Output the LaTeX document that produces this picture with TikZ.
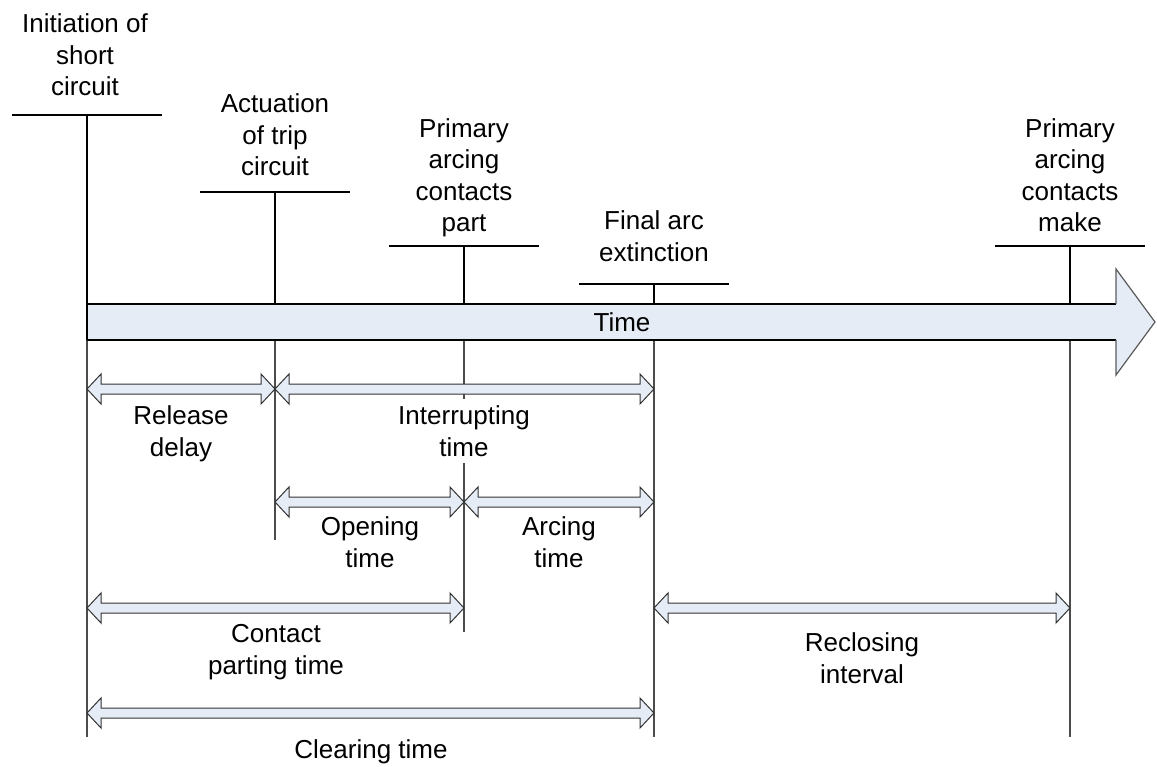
\documentclass[tikz,border=0pt]{standalone}
\usepackage{fontspec}
\setmainfont{Liberation Sans}
\usetikzlibrary{calc}
\definecolor{fg}{RGB}{0,0,0}
\definecolor{mu}{RGB}{90,90,90}
\definecolor{band}{RGB}{229,236,246}
\newcommand{\lblfont}{\fontsize{26}{31.5}\selectfont}
% hohler Doppelpfeil zwischen zwei Koordinaten
\newcommand{\spanarr}[2]{%
  \draw[span] (#1) -- ++(14,-15) -- ++(0,10) -- ($(#2)+(-14,-5)$) -- ++(0,-10)
    -- (#2) -- ++(-14,15) -- ++(0,-10) -- ($(#1)+(14,5)$) -- ++(0,10) -- cycle;}
\tikzset{
  every picture/.style={fg, line width=1pt, line join=miter},
  every node/.style={font=\lblfont},
  % Linientypen
  bar/.style={line width=1.6pt},
  tick/.style={line width=1.6pt},
  guide/.style={black!70, line width=1.2pt},
  span/.style={draw=black!80, fill=band, line width=1pt},
  % Beschriftung, ggf. mit Aussparung
  lbl/.style={align=center, inner sep=0pt},
  lblbg/.style={lbl, fill=white, inner xsep=2pt, inner ysep=7pt},
}
\begin{document}
\begin{tikzpicture}[x=1pt, y=-1pt]
  \useasboundingbox (0,0) rectangle (1157,767);
  % Zeitpunkte: Querbalken, Marke oben, Hilfslinie unten
  \foreach \n/\x/\top/\bot in {A/87/115/737, B/275/192/540, C/464/246/632,
      D/654/284/737, E/1070/246/737} {
    \coordinate (\n-top) at (\x,\top);
    \coordinate (\n-axu) at (\x,304);
    \coordinate (\n-axd) at (\x,340);
    \coordinate (\n-bot) at (\x,\bot);
    \coordinate (\n-r1) at (\x,389);
    \coordinate (\n-r2) at (\x,502);
    \coordinate (\n-r3) at (\x,608);
    \coordinate (\n-r4) at (\x,713);
    \draw[bar] ($(\n-top)+(-75,0)$) -- ($(\n-top)+(75,0)$);
    \draw[tick] (\n-top) -- (\n-axu);
    \draw[guide] (\n-axd) -- (\n-bot);
  }
  % Zeitachse als breiter Pfeil
  \coordinate (hu) at (1116,304);
  \coordinate (hd) at (1116,340);
  \coordinate (tip) at (1155,322);
  \fill[band] (A-axu) -- (hu) -- (1116,269) -- (tip) -- (1116,375) -- (hd) -- (A-axd) -- cycle;
  \draw[tick] (A-axu) -- (hu);
  \draw[tick] (A-axd) -- (hd);
  \draw[tick] (A-axu) -- (A-axd);
  \draw[mu, line width=1.2pt] (hu) -- (1116,269) -- (tip) -- (1116,375) -- (hd);
  \node[lbl] (time) at (622,322) {Time};
  % Ereignisse
  \node[lbl] (init) at (85,55) {Initiation of\\short\\circuit};
  \node[lbl] (trip) at (275,135) {Actuation\\of trip\\circuit};
  \node[lbl] (part) at (464,178) {Primary\\arcing\\contacts\\part};
  \node[lbl] (ext) at (654,236) {Final arc\\extinction};
  \node[lbl] (make) at (1070,175) {Primary\\arcing\\contacts\\make};
  % Intervalle
  \spanarr{A-r1}{B-r1}
  \spanarr{B-r1}{D-r1}
  \spanarr{B-r2}{C-r2}
  \spanarr{C-r2}{D-r2}
  \spanarr{A-r3}{C-r3}
  \spanarr{D-r3}{E-r3}
  \spanarr{A-r4}{D-r4}
  \node[lbl] (rel) at (181,434) {Release\\delay};
  \node[lblbg] (intr) at (464,431) {Interrupting\\time};
  \node[lbl] (open) at (370,542) {Opening\\time};
  \node[lbl] (arc) at (559,542) {Arcing\\time};
  \node[lbl] (cpt) at (276,652) {Contact\\parting time};
  \node[lbl] (recl) at (862,658) {Reclosing\\interval};
  \node[lbl] (clr) at (371,752) {Clearing time};
\end{tikzpicture}
\end{document}
